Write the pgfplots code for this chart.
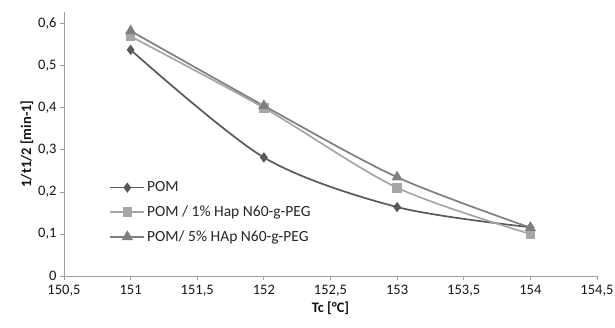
\documentclass[border=0pt]{standalone}
\usepackage{pgfplots}
\pgfplotsset{compat=1.18}
\usepackage{fontspec}
\setmainfont{Carlito}
\definecolor{cpom}{HTML}{595959}
\definecolor{cone}{HTML}{A6A6A6}
\definecolor{cfive}{HTML}{7F7F7F}
\definecolor{axgray}{HTML}{A0A0A0}
\begin{document}
\begin{tikzpicture}
\begin{axis}[
  scale only axis,
  width=533pt, height=264pt,
  xmin=150.5, xmax=154.5,
  ymin=0, ymax=0.628,
  xtick={150.5,151,151.5,152,152.5,153,153.5,154,154.5},
  ytick={0,0.1,0.2,0.3,0.4,0.5,0.6},
  yticklabels={0,{0,1},{0,2},{0,3},{0,4},{0,5},{0,6}},
  xticklabels={{150,5},151,{151,5},152,{152,5},153,{153,5},154,{154,5}},
  axis x line*=bottom, axis y line*=left,
  axis line style={axgray, line width=0.8pt, -},
  tick style={axgray, line width=0.8pt},
  major tick length=4pt,
  xtick align=outside, ytick align=outside,
  tick label style={font=\fontsize{14.5}{16}\selectfont, text=black!92},
  xticklabel style={yshift=-2pt},
  xlabel={\textbf{Tc [°C]}},
  ylabel={\textbf{1/t1/2 [min-1]}},
  label style={font=\fontsize{14.5}{16}\selectfont, text=black!92},
  xlabel style={yshift=2pt},
  ylabel style={yshift=-2pt},
  legend style={draw=none, fill=none, at={(0.085,0.365)}, anchor=north west,
    font=\fontsize{15.5}{17}\selectfont, text=black!85, row sep=8.5pt, inner sep=0pt,
    /tikz/every even column/.append style={column sep=1pt}},
  legend cell align=left,
  legend image code/.code={
    \draw[#1, mark repeat=2, mark phase=2] plot coordinates {(0pt,0pt) (17pt,0pt) (34pt,0pt)};
  },
]
\addplot[color=cpom, line width=1.7pt, smooth, tension=0.5, mark=diamond*, mark size=3.8pt, mark options={fill=cpom, solid}]
  coordinates {(151,0.538) (152,0.282) (153,0.164) (154,0.116)};
\addlegendentry{POM}
\addplot[color=cone, line width=1.7pt, smooth, tension=0.5, mark=square*, mark size=4pt, mark options={fill=cone, solid}]
  coordinates {(151,0.570) (152,0.400) (153,0.210) (154,0.100)};
\addlegendentry{POM / 1\% Hap N60-g-PEG}
\addplot[color=cfive, line width=1.7pt, smooth, tension=0.5, mark=triangle*, mark size=4.8pt, mark options={fill=cfive, solid}]
  coordinates {(151,0.583) (152,0.405) (153,0.235) (154,0.115)};
\addlegendentry{POM/ 5\% HAp N60-g-PEG}
\end{axis}
\pgfresetboundingbox
\path (current axis.south west) ++(-64pt,-51pt) coordinate (bbA);
\path (current axis.north east) ++(18pt,12pt) coordinate (bbB);
\useasboundingbox (bbA) rectangle (bbB);
\end{tikzpicture}
\end{document}
